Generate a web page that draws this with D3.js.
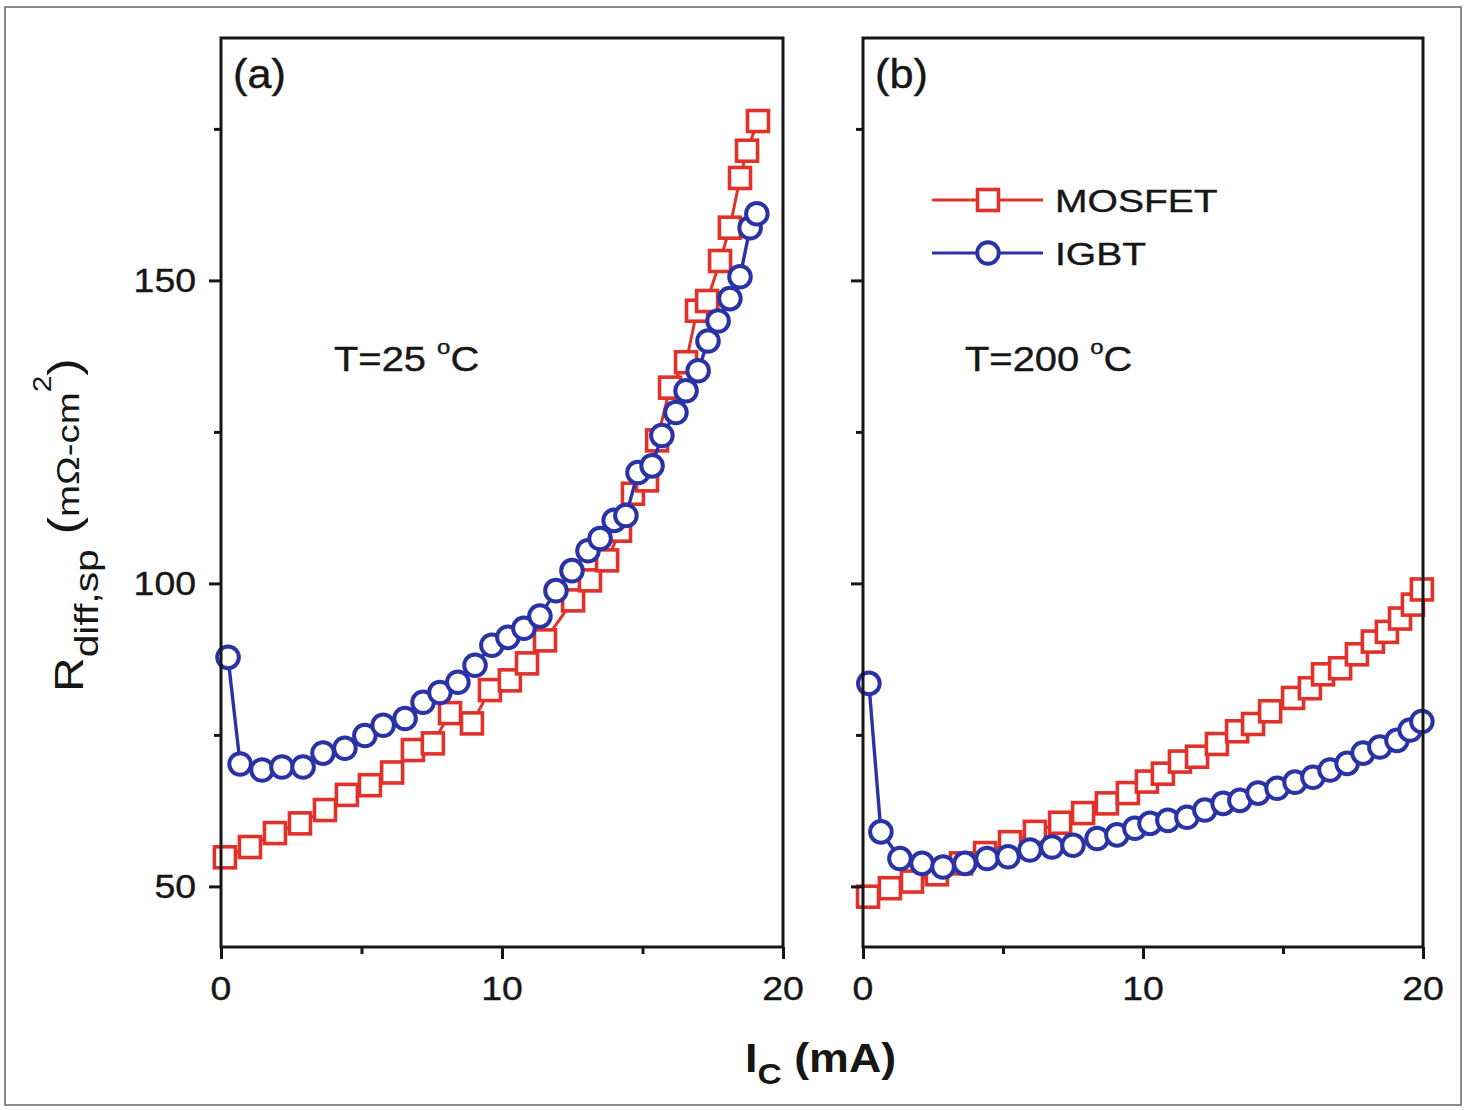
<!DOCTYPE html>
<html><head><meta charset="utf-8">
<script src="https://cdn.jsdelivr.net/npm/d3@7"></script>
<style>html,body{margin:0;padding:0;background:#fff;}svg{display:block;}</style>
</head><body>
<script>
// ---------- data ----------
const yMajorTicks = [50, 100, 150];
const yMinorTicks = [75, 125, 175];
const xMajorTicks = [0, 10, 20];
const xMinorTicks = [5, 15];
const panelLabels = ["(a)", "(b)"];
const tempLabels = ["T=25 ", "T=200 "];
const seriesNames = ["MOSFET", "IGBT"];

const mosfetA_I = [0.14,1.03,1.92,2.81,3.70,4.48,5.30,6.09,6.83,7.54,8.15,8.93,9.57,10.28,10.89,11.53,12.53,13.13,13.74,14.20,14.66,15.16,15.52,15.98,16.55,16.94,17.30,17.76,18.11,18.47,18.72,19.11];
const mosfetA_R = [54.8,56.5,58.8,60.4,62.6,65.1,66.7,68.8,72.5,73.6,78.6,76.9,82.4,84.0,86.8,90.6,97.2,100.5,103.8,108.7,114.8,117.0,123.6,132.3,136.5,145.0,146.6,153.2,158.7,166.9,171.4,176.3];

const igbtA_I = [0.25,0.68,1.46,2.17,2.92,3.63,4.41,5.12,5.77,6.55,7.19,7.79,8.43,9.04,9.64,10.21,10.78,11.35,11.92,12.49,13.06,13.49,13.99,14.41,14.84,15.34,15.69,16.19,16.55,16.98,17.33,17.69,18.11,18.47,18.83,19.07];
const igbtA_R = [87.8,70.2,69.2,69.7,69.7,72.0,72.8,74.9,76.6,77.7,80.4,82.0,83.7,86.5,89.8,91.1,92.6,94.6,98.8,102.1,105.4,107.4,110.4,111.2,118.3,119.4,124.4,128.2,131.8,135.1,140.0,143.3,147.0,150.6,158.7,161.0];

const mosfetB_I = [0.18,0.96,1.75,2.64,3.50,4.36,5.25,6.14,7.04,7.86,8.71,9.46,10.14,10.71,11.32,11.93,12.64,13.36,13.93,14.54,15.36,15.96,16.43,17.04,17.64,18.21,18.71,19.18,19.64,19.96];
const mosfetB_R = [48.3,49.7,50.8,52.0,53.8,55.5,57.3,59.0,60.5,62.1,63.7,65.4,67.3,68.6,70.6,71.4,73.5,75.6,76.8,78.9,81.1,82.7,85.0,86.0,88.3,90.4,92.0,94.2,96.5,99.0];

const igbtB_I = [0.21,0.64,1.32,2.11,2.86,3.64,4.43,5.18,5.96,6.75,7.50,8.36,9.07,9.71,10.25,10.89,11.57,12.21,12.86,13.46,14.11,14.79,15.43,16.07,16.68,17.29,17.86,18.46,19.07,19.54,19.96];
const igbtB_R = [83.5,59.0,54.6,53.8,53.2,53.8,54.6,54.9,56.0,56.5,56.8,57.9,58.5,59.6,60.4,60.9,61.4,62.6,63.7,64.2,65.4,66.2,67.2,68.0,69.2,70.3,72.0,73.0,74.1,75.8,77.2];

// ---------- drawing ----------
const W = 1466, H = 1110;
const RED = "#e0312b", BLUE = "#2a33a6";
const INK = "#161616";
const FONT = "'Liberation Sans', Arial, sans-serif";
const svg = d3.select("body").append("svg").attr("width", W).attr("height", H)
  .style("font-family", FONT);

svg.append("rect").attr("x", 0).attr("y", 0).attr("width", W).attr("height", H).attr("fill", "#fff");
svg.append("rect").attr("x", 5).attr("y", 7).attr("width", 1456).attr("height", 1098)
  .attr("fill", "none").attr("stroke", "#666").attr("stroke-width", 1.5);

const yScale = d3.scaleLinear().domain([40, 190]).range([947, 38]);
const panels = [
  {x: d3.scaleLinear().domain([0, 20]).range([221, 783]),
   mos: mosfetA_I.map((d,i)=>[d, mosfetA_R[i]]), igbt: igbtA_I.map((d,i)=>[d, igbtA_R[i]]),
   labels: true, plab: panelLabels[0], temp: tempLabels[0], tx: 334},
  {x: d3.scaleLinear().domain([0, 20]).range([863, 1423]),
   mos: mosfetB_I.map((d,i)=>[d, mosfetB_R[i]]), igbt: igbtB_I.map((d,i)=>[d, igbtB_R[i]]),
   labels: false, plab: panelLabels[1], temp: tempLabels[1], tx: 965}
];

function stretchedText(g, x, y, txt, size, sx, anchor, weight) {
  return g.append("text")
    .attr("transform", `translate(${x},${y}) scale(${sx},1)`)
    .attr("font-size", size).attr("text-anchor", anchor || "start")
    .attr("font-weight", weight || "normal").attr("fill", INK)
    .attr("stroke", INK).attr("stroke-width", 0.4).text(txt);
}

panels.forEach((p, pi) => {
  const g = svg.append("g");
  const x = p.x, y = yScale;
  const [x0, x1] = x.range();
  const line = d3.line().x(d => x(d[0])).y(d => y(d[1]));

  // MOSFET
  g.append("path").datum(p.mos).attr("d", line).attr("fill", "none")
    .attr("stroke", RED).attr("stroke-width", 3);
  g.selectAll(null).data(p.mos).enter().append("rect")
    .attr("x", d => x(d[0]) - 10.5).attr("y", d => y(d[1]) - 10.5)
    .attr("width", 21).attr("height", 21)
    .attr("fill", "#fff").attr("stroke", RED).attr("stroke-width", 3.6);
  // IGBT
  g.append("path").datum(p.igbt).attr("d", line).attr("fill", "none")
    .attr("stroke", BLUE).attr("stroke-width", 3.4);
  g.selectAll(null).data(p.igbt).enter().append("circle")
    .attr("cx", d => x(d[0])).attr("cy", d => y(d[1])).attr("r", 10.8)
    .attr("fill", "#fff").attr("stroke", BLUE).attr("stroke-width", 4);

  // frame
  g.append("rect").attr("x", x0).attr("y", y(190)).attr("width", x1 - x0).attr("height", y(40) - y(190))
    .attr("fill", "none").attr("stroke", INK).attr("stroke-width", 3);

  // y ticks
  const yax = d3.axisLeft(y).tickValues(yMajorTicks).tickSize(12).tickFormat(() => "");
  const ya = g.append("g").attr("transform", `translate(${x0},0)`).call(yax);
  ya.select(".domain").remove();
  ya.selectAll(".tick line").attr("stroke", INK).attr("stroke-width", 3);
  if (p.labels) {
    yMajorTicks.forEach(v => {
      stretchedText(g, x0 - 25, y(v) + 12, String(v), 34, 1.1, "end");
    });
  }
  const yminax = d3.axisLeft(y).tickValues(yMinorTicks).tickSize(7).tickFormat(() => "");
  const ymi = g.append("g").attr("transform", `translate(${x0},0)`).call(yminax);
  ymi.select(".domain").remove();
  ymi.selectAll(".tick line").attr("stroke", INK).attr("stroke-width", 3);

  // x ticks
  const xax = d3.axisBottom(x).tickValues(xMajorTicks).tickSize(12).tickFormat(() => "");
  const xa = g.append("g").attr("transform", `translate(0,${y(40)})`).call(xax);
  xa.select(".domain").remove();
  xa.selectAll(".tick line").attr("stroke", INK).attr("stroke-width", 3);
  xMajorTicks.forEach(v => {
    stretchedText(g, x(v), 1000, String(v), 34, 1.1, "middle");
  });
  const xminax = d3.axisBottom(x).tickValues(xMinorTicks).tickSize(7).tickFormat(() => "");
  const xmi = g.append("g").attr("transform", `translate(0,${y(40)})`).call(xminax);
  xmi.select(".domain").remove();
  xmi.selectAll(".tick line").attr("stroke", INK).attr("stroke-width", 3);

  // panel label
  stretchedText(g, x0 + 12, 88, p.plab, 40, 1.08, "start");

  // temperature
  const tt = g.append("text")
    .attr("transform", `translate(${p.tx},${371}) scale(1.14,1)`)
    .attr("font-size", 35).attr("fill", INK).attr("stroke", INK).attr("stroke-width", 0.4);
  tt.append("tspan").text(p.temp);
  tt.append("tspan").attr("font-size", 21).attr("dy", -17).text("o");
  tt.append("tspan").attr("dy", 17).text("C");
});

// legend
const legend = svg.append("g");
[[RED, "rect"], [BLUE, "circle"]].forEach(([col, shape], i) => {
  const ly = 200 + i * 53;
  legend.append("line").attr("x1", 932).attr("x2", 1043).attr("y1", ly).attr("y2", ly)
    .attr("stroke", col).attr("stroke-width", 3);
  if (shape === "rect") {
    legend.append("rect").attr("x", 988 - 10.5).attr("y", ly - 10.5).attr("width", 21).attr("height", 21)
      .attr("fill", "#fff").attr("stroke", col).attr("stroke-width", 3.6);
  } else {
    legend.append("circle").attr("cx", 988).attr("cy", ly).attr("r", 10.8)
      .attr("fill", "#fff").attr("stroke", col).attr("stroke-width", 4);
  }
  stretchedText(legend, 1055, ly + 12, seriesNames[i], 32, 1.22, "start");
});

// x label
const xl = svg.append("text").attr("transform", "translate(745,1072) scale(1.12,1)")
  .attr("font-size", 40).attr("font-weight", "bold").attr("fill", INK);
xl.append("tspan").text("I");
xl.append("tspan").attr("font-size", 30).attr("dy", 12).text("C");
xl.append("tspan").attr("dy", -12).text(" (mA)");

// y label
const yl = svg.append("text").attr("transform", "translate(83,692) rotate(-90) scale(1.2,1)")
  .attr("font-size", 40).attr("fill", INK);
yl.append("tspan").text("R");
yl.append("tspan").attr("font-size", 34).attr("dy", 15).text("diff,sp");
yl.append("tspan").attr("font-size", 44).attr("dy", -19).text(" (");
yl.append("tspan").attr("font-size", 32).attr("dy", 0).text("mΩ-cm");
yl.append("tspan").attr("font-size", 25).attr("dy", -28).text("2");
yl.append("tspan").attr("font-size", 44).attr("dy", 28).text(")");
</script>
</body></html>
